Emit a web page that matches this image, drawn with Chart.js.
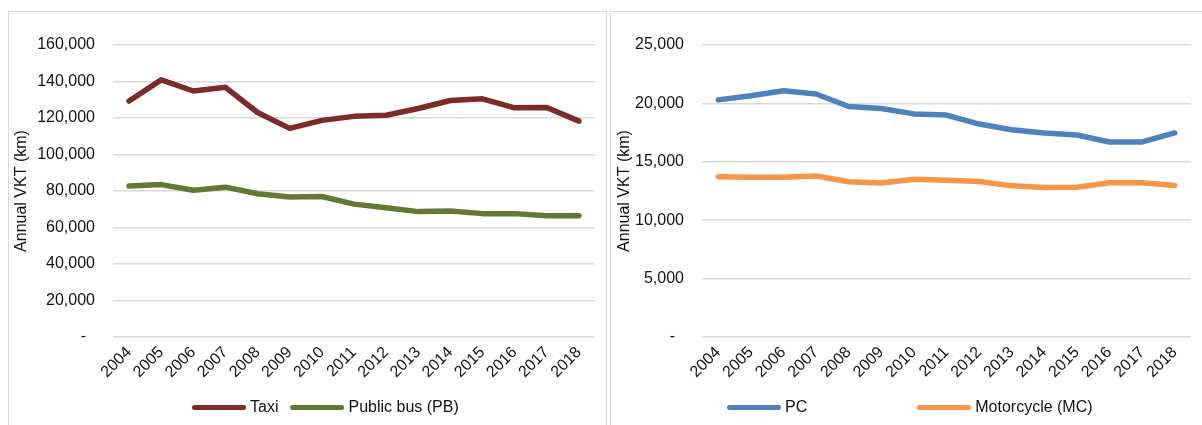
<!DOCTYPE html>
<html>
<head>
<meta charset="utf-8">
<script src="https://cdn.jsdelivr.net/npm/chart.js@4.4.1/dist/chart.umd.min.js"></script>
<style>
  html, body { margin: 0; padding: 0; background: #fff; }
  body { width: 1202px; height: 425px; position: relative; overflow: hidden; font-family: "Liberation Sans", Arial, sans-serif; }
  .panel { position: absolute; top: 11px; height: 430px; border-top: 1.5px solid #d9d9d9; box-sizing: border-box; }
  #pL { left: 8px; width: 599px; border-left: 1.5px solid #d9d9d9; border-right: 1.5px solid #d9d9d9; }
  #pR { left: 610px; width: 600px; border-left: 1.5px solid #d9d9d9; }
  canvas { position: absolute; }
  .legend { position: absolute; top: 398px; display: flex; align-items: center; font-size: 16px; color: #111; white-space: nowrap; }
  .legend .item { display: flex; align-items: center; }
  .legend .sw { width: 54px; height: 5px; border-radius: 3px; margin-right: 4px; }
</style>
</head>
<body>
<div class="panel" id="pL"></div>
<div class="panel" id="pR"></div>
<canvas id="cL" width="597" height="413" style="left:9px;top:12px"></canvas>
<canvas id="cR" width="590" height="413" style="left:612px;top:12px"></canvas>
<div class="legend" id="lL" style="left:192px"></div>
<div class="legend" id="lR" style="left:727px"></div>
<script>
const years = ["2004","2005","2006","2007","2008","2009","2010","2011","2012","2013","2014","2015","2016","2017","2018"];
const taxi = [129300, 140900, 134800, 136800, 123000, 114300, 118700, 120900, 121500, 125200, 129600, 130500, 125600, 125800, 118300];
const publicBus = [82700, 83500, 80400, 82100, 78500, 76700, 77000, 72800, 70800, 68700, 69100, 67600, 67600, 66400, 66400];
const pc = [20300, 20650, 21080, 20800, 19730, 19570, 19100, 19000, 18230, 17750, 17470, 17290, 16700, 16700, 17470];
const motorcycle = [13720, 13670, 13680, 13780, 13290, 13180, 13500, 13420, 13320, 12940, 12810, 12820, 13210, 13210, 12980];
const leftTicks = { min: 0, max: 160000, step: 20000 };
const rightTicks = { min: 0, max: 25000, step: 5000 };
const yTitle = "Annual VKT (km)";

const FONT = "'Liberation Sans', Arial, sans-serif";
const TXT = "#111";

function fmt(v) {
  if (v === 0) return "-  ";
  return v.toLocaleString("en-US");
}

function htmlLegend(id, gap) {
  return {
    id: 'htmlLegend',
    afterUpdate(chart) {
      const box = document.getElementById(id);
      box.innerHTML = '';
      box.style.gap = gap + 'px';
      chart.data.datasets.forEach(ds => {
        const it = document.createElement('div');
        it.className = 'item';
        const sw = document.createElement('div');
        sw.className = 'sw';
        sw.style.background = ds.borderColor;
        const t = document.createElement('span');
        t.textContent = ds.label;
        it.appendChild(sw); it.appendChild(t);
        box.appendChild(it);
      });
    }
  };
}

function makeChart(canvasId, datasets, ticks, yWidth, legendId, gap) {
  return new Chart(document.getElementById(canvasId), {
    type: 'line',
    data: {
      labels: years,
      datasets: datasets.map(d => ({
        label: d.label,
        data: d.data,
        borderColor: d.color,
        backgroundColor: d.color,
        borderWidth: 5.5,
        pointRadius: 0,
        tension: 0,
        borderCapStyle: 'round',
        borderJoinStyle: 'round',
        fill: false
      }))
    },
    options: {
      responsive: false,
      devicePixelRatio: 1,
      animation: false,
      layout: { padding: { top: 33, right: 11, bottom: 28, left: 0 } },
      plugins: { legend: { display: false }, tooltip: { enabled: false } },
      scales: {
        x: {
          offset: true,
          grid: { display: false, drawTicks: false },
          border: { display: false },
          ticks: { minRotation: 45, maxRotation: 45, padding: 6, color: TXT, font: { family: FONT, size: 16 } },
          afterFit(s) { s.height = 60; }
        },
        y: {
          min: ticks.min, max: ticks.max,
          grid: { color: '#d9d9d9', lineWidth: 1.5, drawTicks: false },
          border: { display: false },
          ticks: { stepSize: ticks.step, padding: 18, color: TXT, font: { family: FONT, size: 16 }, callback: v => fmt(v) },
          title: { display: true, text: yTitle, color: TXT, font: { family: FONT, size: 16 }, padding: { top: 3, bottom: 0 } },
          afterFit(s) { s.width = yWidth; }
        }
      }
    },
    plugins: [htmlLegend(legendId, gap)]
  });
}

makeChart('cL', [
  { label: 'Taxi', data: taxi, color: '#7B2B28' },
  { label: 'Public bus (PB)', data: publicBus, color: '#5F7A31' }
], leftTicks, 104, 'lL', 12);

makeChart('cR', [
  { label: 'PC', data: pc, color: '#4F81BD' },
  { label: 'Motorcycle (MC)', data: motorcycle, color: '#F79646' }
], rightTicks, 90, 'lR', 110);
</script>
</body>
</html>
